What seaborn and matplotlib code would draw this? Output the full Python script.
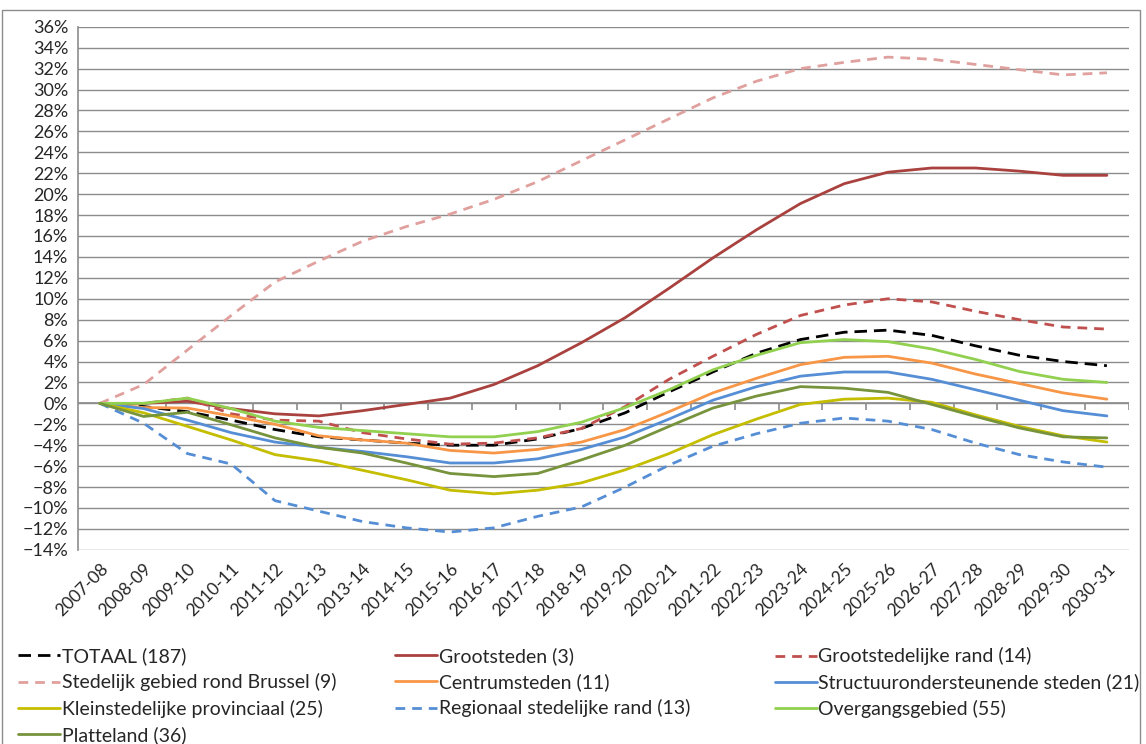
import numpy as np
import pandas as pd
import seaborn as sns
import matplotlib.pyplot as plt
from matplotlib.ticker import PercentFormatter, MultipleLocator
from matplotlib.patches import Rectangle

# school years on the x axis
years = ["2007-08", "2008-09", "2009-10", "2010-11", "2011-12", "2012-13",
         "2013-14", "2014-15", "2015-16", "2016-17", "2017-18", "2018-19",
         "2019-20", "2020-21", "2021-22", "2022-23", "2023-24", "2024-25",
         "2025-26", "2026-27", "2027-28", "2028-29", "2029-30", "2030-31"]

# growth in % versus 2007-08
totaal = [0, -0.3, -0.8, -1.6, -2.5, -3.2, -3.5, -3.8, -4.0, -4.0, -3.4, -2.4,
          -0.9, 1.1, 3.0, 4.8, 6.1, 6.8, 7.0, 6.5, 5.5, 4.6, 4.0, 3.6]
grootsteden = [0, 0.0, 0.2, -0.5, -1.0, -1.2, -0.7, -0.1, 0.5, 1.8, 3.6, 5.8,
               8.2, 11.0, 13.9, 16.6, 19.1, 21.0, 22.1, 22.5, 22.5, 22.2, 21.8, 21.8]
grootst_rand = [0, 0.0, 0.5, -1.0, -1.6, -1.7, -2.8, -3.4, -3.9, -3.8, -3.3, -2.4,
                -0.3, 2.3, 4.5, 6.6, 8.4, 9.4, 10.0, 9.7, 8.8, 8.0, 7.3, 7.1]
brussel_rand = [0, 1.8, 5.1, 8.4, 11.6, 13.6, 15.5, 16.9, 18.1, 19.5, 21.2, 23.2,
                25.2, 27.2, 29.2, 30.8, 32.0, 32.6, 33.1, 32.9, 32.4, 31.9, 31.4, 31.6]
centrumsteden = [0, -0.4, -0.45, -1.2, -2.0, -3.1, -3.5, -3.8, -4.5, -4.75, -4.4, -3.7,
                 -2.5, -0.8, 1.0, 2.4, 3.7, 4.4, 4.5, 3.85, 2.8, 1.9, 1.0, 0.4]
structuur = [0, -0.5, -1.6, -2.8, -3.7, -4.2, -4.6, -5.1, -5.7, -5.7, -5.3, -4.4,
             -3.2, -1.5, 0.3, 1.6, 2.6, 3.0, 3.0, 2.3, 1.3, 0.3, -0.7, -1.2]
kleinstedelijk = [0, -0.9, -2.2, -3.5, -4.9, -5.5, -6.4, -7.3, -8.3, -8.65, -8.3, -7.6,
                  -6.35, -4.8, -3.0, -1.5, -0.1, 0.4, 0.5, 0.1, -1.1, -2.2, -3.1, -3.7]
regionaal_rand = [0, -1.9, -4.8, -5.8, -9.3, -10.3, -11.3, -11.9, -12.3, -11.9, -10.8, -9.9,
                  -8.0, -5.9, -4.1, -2.9, -1.9, -1.4, -1.7, -2.5, -3.8, -4.9, -5.6, -6.1]
overgang = [0, 0.0, 0.5, -0.5, -1.7, -2.3, -2.6, -2.9, -3.2, -3.2, -2.7, -1.8,
            -0.4, 1.3, 3.2, 4.6, 5.8, 6.1, 5.9, 5.2, 4.2, 3.05, 2.3, 2.0]
platteland = [0, -1.25, -0.85, -2.05, -3.3, -4.2, -4.75, -5.7, -6.7, -7.0, -6.7, -5.4,
              -4.0, -2.2, -0.45, 0.7, 1.6, 1.45, 1.05, -0.1, -1.25, -2.35, -3.2, -3.3]

labels = ["TOTAAL (187)", "Grootsteden (3)", "Grootstedelijke rand (14)",
          "Stedelijk gebied rond Brussel (9)", "Centrumsteden (11)",
          "Structuurondersteunende steden (21)", "Kleinstedelijke provinciaal (25)",
          "Regionaal stedelijke rand (13)", "Overgangsgebied (55)", "Platteland (36)"]
series = [totaal, grootsteden, grootst_rand, brussel_rand, centrumsteden,
          structuur, kleinstedelijk, regionaal_rand, overgang, platteland]
colors = ["#000000", "#A9423F", "#C0504D", "#E0A09E", "#F79646",
          "#558ED5", "#C4BD00", "#558ED5", "#92D050", "#77933C"]
dashed = [True, False, True, True, False, False, False, True, False, False]

sns.set_style("white")
plt.rcParams["font.family"] = ["Lato", "DejaVu Sans"]

fig = plt.figure(figsize=(11.46, 7.44), dpi=100)
ax = fig.add_axes([0.068, 0.261, 0.917, 0.703])

x = np.arange(len(years))
handles = []
for vals, lab, col, dsh in zip(series, labels, colors, dashed):
    if dsh:
        ls = (0, (4.5, 2.5)) if col == "#000000" else (0, (3.5, 2.5))
    else:
        ls = "-"
    sns.lineplot(x=x, y=vals, ax=ax, color=col, linewidth=2.0, linestyle=ls,
                 label=lab, legend=False)
    handles.append(ax.lines[-1])

ax.set_xlim(-0.5, len(years) - 0.5)
ax.set_ylim(-14, 36)
ax.yaxis.set_major_locator(MultipleLocator(2))
ax.yaxis.set_major_formatter(PercentFormatter(decimals=0))
ax.grid(axis="y", color="#8c8c8c", linewidth=1.0)
ax.set_axisbelow(True)

for s in ["top", "right", "bottom"]:
    ax.spines[s].set_visible(False)
ax.spines["left"].set_color("#8c8c8c")
ax.spines["left"].set_linewidth(1.2)

# zero axis with tick marks between categories
ax.axhline(0, color="#8c8c8c", linewidth=1.2, zorder=1)
ax.vlines(np.arange(len(years)) + 0.5, -0.6, 0, color="#8c8c8c", linewidth=1.2, zorder=1)

ax.set_xticks(x)
ax.set_xticklabels(years, rotation=45, ha="right", rotation_mode="anchor", fontsize=12.5)
ax.tick_params(axis="x", length=0, pad=8)
ax.tick_params(axis="y", length=5, color="#8c8c8c", width=1.2, labelsize=13, pad=2)
ax.set_xlabel("")
ax.set_ylabel("")

# legend: three fixed columns, filled row by row like the original
columns = [[0, 3, 6, 9], [1, 4, 7], [2, 5, 8]]
col_x = [0.016, 0.345, 0.676]
for idx, cx in zip(columns, col_x):
    fig.legend([handles[i] for i in idx], [labels[i] for i in idx],
               loc="upper left", bbox_to_anchor=(cx, 0.130), ncol=1,
               frameon=False, fontsize=14, handlelength=2.15, handletextpad=0.1,
               labelspacing=0.42, borderaxespad=0, borderpad=0)

# chart border
fig.patches.append(Rectangle((0.002, -0.01), 0.993, 0.997, transform=fig.transFigure,
                             fill=False, edgecolor="#8c8c8c", linewidth=1.0))

fig.savefig("out.png", dpi=100)
